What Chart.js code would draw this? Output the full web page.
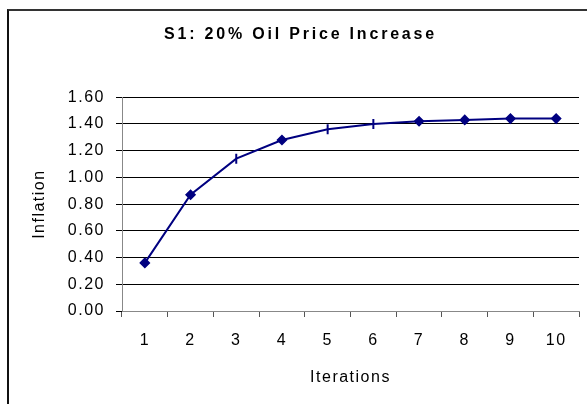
<!DOCTYPE html>
<html>
<head>
<meta charset="utf-8">
<script src="https://cdn.jsdelivr.net/npm/chart.js@4"></script>
<style>
  body { margin: 0; overflow: hidden; background: #fff; }
  #frame { position: absolute; left: 7px; top: 9px; width: 640px; height: 440px;
           border-top: 2px solid #333; border-left: 2px solid #111; }
  #wrap { position: absolute; left: 0; top: 0; width: 587px; height: 404px; }
</style>
</head>
<body>
<div id="frame"></div>
<div id="wrap"><canvas id="myChart" width="587" height="404"></canvas></div>
<script>
const ctx = document.getElementById("myChart");

// chart data
var iterations = ["1", "2", "3", "4", "5", "6", "7", "8", "9", "10"];
var inflation = [0.36, 0.87, 1.14, 1.28, 1.36, 1.40, 1.42, 1.43, 1.44, 1.44];
// Excel drew some of the markers as little vertical dashes
var markers = ["rectRot", "rectRot", "line", "rectRot", "line", "line", "rectRot", "rectRot", "rectRot", "rectRot"];

var navy = "#000080";
var font = "'Liberation Sans', Arial, sans-serif";

// spaced-out lettering like the original, title a bit wider still
const spacing = {
  id: "spacing",
  beforeUpdate(chart) {
    chart.ctx.letterSpacing = "1.5px";
    const t = chart.titleBlock;
    if (t && !t._spaced) {
      const draw = t.draw.bind(t);
      t.draw = function () {
        chart.ctx.letterSpacing = "2.8px";
        draw();
        chart.ctx.letterSpacing = "1.5px";
      };
      t._spaced = true;
    }
  },
  beforeDraw(chart) { chart.ctx.letterSpacing = "1.5px"; },
};

new Chart(ctx, {
  type: "line",
  data: {
    labels: iterations,
    datasets: [
      {
        label: "Inflation",
        data: inflation,
        borderColor: navy,
        backgroundColor: navy,
        borderWidth: 2,
        pointStyle: markers,
        pointRotation: markers.map((m) => (m == "line" ? 90 : 0)),
        pointRadius: markers.map((m) => (m == "line" ? 5 : 4.5)),
        pointBorderWidth: markers.map((m) => (m == "line" ? 2 : 1.5)),
        tension: 0,
      },
    ],
  },
  plugins: [spacing],
  options: {
    responsive: false,
    animation: false,
    layout: { padding: { left: 22, right: 8, top: 0, bottom: 0 } },
    plugins: {
      legend: { display: false },
      tooltip: { enabled: false },
      title: {
        display: true,
        text: "S1: 20% Oil Price Increase",
        color: "#000",
        font: { family: font, size: 16, weight: "bold" },
        padding: { top: 25, bottom: 53 },
      },
    },
    scales: {
      x: {
        offset: true,
        grid: { offset: true, drawOnChartArea: false, tickLength: 6, tickColor: "#555", color: "#555" },
        border: { color: "#888", width: 1 },
        ticks: { color: "#000", padding: 14, font: { family: font, size: 16 } },
        title: {
          display: true,
          text: "Iterations",
          color: "#000",
          font: { family: font, size: 16 },
          padding: { top: 0, bottom: 17 },
        },
        afterFit(scale) { scale.height = 93; },
      },
      y: {
        min: 0,
        max: 1.6,
        ticks: {
          stepSize: 0.2,
          color: "#000",
          padding: 11,
          font: { family: font, size: 16 },
          callback: (v) => v.toFixed(2),
        },
        grid: {
          tickLength: 6,
          color: (c) => (c.tick && c.tick.value == 0 ? "#888" : "#000"),
          tickColor: "#000",
        },
        border: { color: "#888", width: 1 },
        title: {
          display: true,
          text: "Inflation",
          color: "#000",
          font: { family: font, size: 16 },
          padding: { top: 8, bottom: 0 },
        },
        afterFit(scale) { scale.width = 100; },
      },
    },
  },
});
</script>
</body>
</html>
